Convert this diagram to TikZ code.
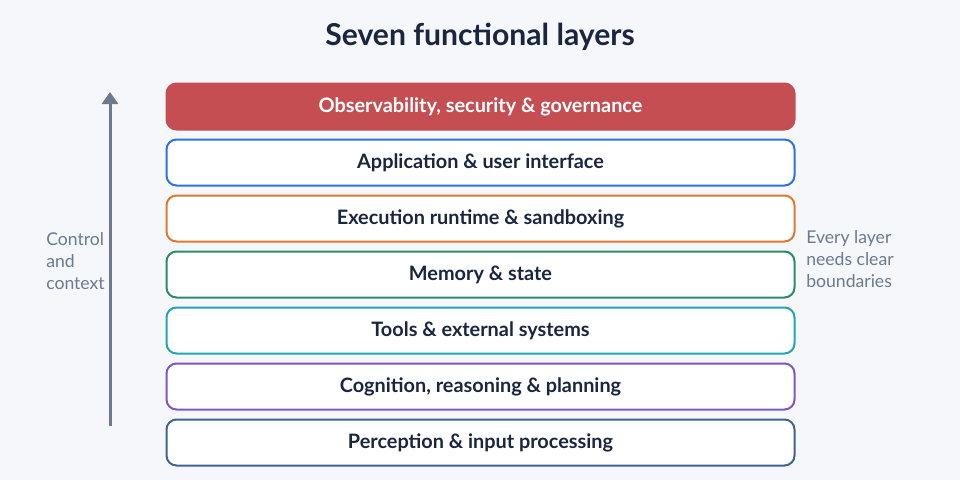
\documentclass[tikz,border=0pt]{standalone}
\usepackage{fontspec}
\setmainfont{Lato}
\usetikzlibrary{arrows.meta}
\definecolor{bg}{HTML}{F5F7FB}
\definecolor{ink}{HTML}{1A2540}
\definecolor{muted}{HTML}{6B7A90}
\definecolor{cRed}{HTML}{C44E52}
\definecolor{cBlue}{HTML}{2F6FE8}
\definecolor{cOrange}{HTML}{DD7A2F}
\definecolor{cGreen}{HTML}{2A8A6A}
\definecolor{cTeal}{HTML}{22A5B5}
\definecolor{cPurple}{HTML}{7E57C2}
\definecolor{cSlate}{HTML}{3D6590}
\tikzset{
  layer/.style={draw=#1, line width=1.5pt, fill=white, rounded corners=7.5pt,
    minimum width=471pt, minimum height=34.5pt, inner sep=0pt,
    text height=12.9pt, text depth=3.2pt,
    font=\fontsize{14.9}{17}\selectfont\bfseries, text=ink},
  side/.style={font=\fontsize{13.2}{16.5}\selectfont, text=muted, align=left, inner sep=0pt},
}
\begin{document}
\begin{tikzpicture}[x=0.75pt,y=-0.75pt]
\fill[bg] (0,0) rectangle (960,480);
\useasboundingbox (0,0) rectangle (960,480);
\node[font=\fontsize{22.6}{26}\selectfont\bfseries, text=ink] (title) at (480,37) {Seven functional layers};
\node[layer=cRed, fill=cRed, text=white] (l7) at (480.5,106.5) {Observability, security \& governance};
\node[layer=cBlue] (l6) at (480.5,162.5) {Application \& user interface};
\node[layer=cOrange] (l5) at (480.5,218.5) {Execution runtime \& sandboxing};
\node[layer=cGreen] (l4) at (480.5,274.5) {Memory \& state};
\node[layer=cTeal] (l3) at (480.5,330.5) {Tools \& external systems};
\node[layer=cPurple] (l2) at (480.5,386.5) {Cognition, reasoning \& planning};
\node[layer=cSlate] (l1) at (480.5,442.5) {Perception \& input processing};
\coordinate (abot) at (110,426);
\coordinate (atop) at (110,92);
\draw[muted, line width=2.25pt, -{Triangle[length=9pt,width=12pt]}] (abot) -- (atop);
\node[side, anchor=west] (lt) at (46,261) {Control\\and\\context};
\node[side, anchor=west] (rt) at (806,259) {Every layer\\needs clear\\boundaries};
\end{tikzpicture}
\end{document}
